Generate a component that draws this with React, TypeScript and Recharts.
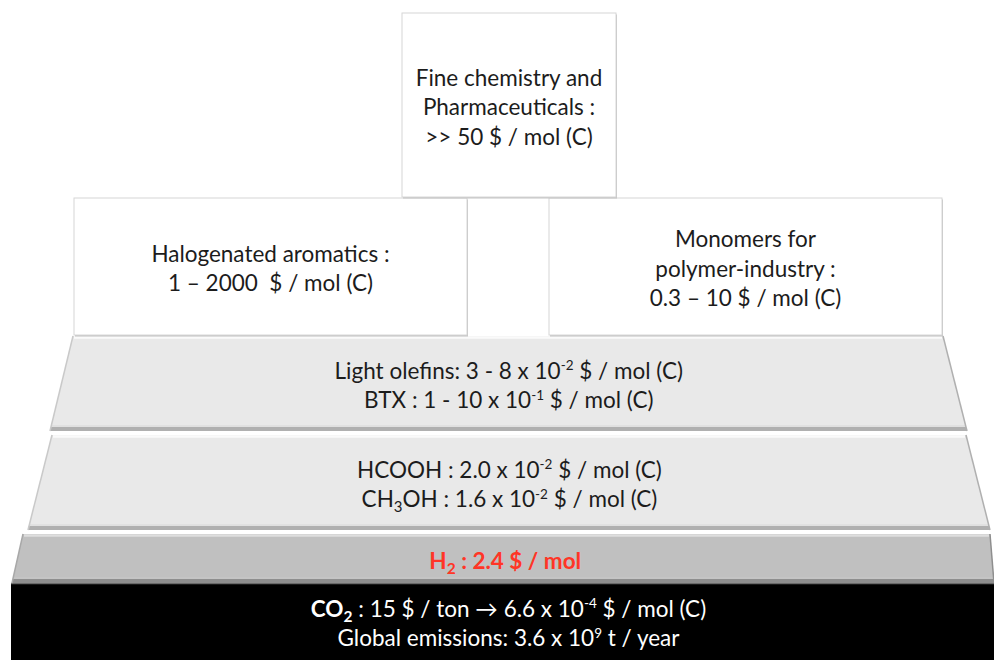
import React from 'react';
import { ComposedChart, XAxis, YAxis, ReferenceArea } from 'recharts';

type Seg = { t: string; k?: 'sup' | 'sub' | 'b' | 'bsub' };

// ---- texts (data) ----
const fineChemLines: Seg[][] = [
  [{ t: 'Fine chemistry and' }],
  [{ t: 'Pharmaceuticals :' }],
  [{ t: '>> 50 $ / mol (C)' }],
];
const halogenLines: Seg[][] = [
  [{ t: 'Halogenated aromatics :' }],
  [{ t: '1 – 2000  $ / mol (C)' }],
];
const monomerLines: Seg[][] = [
  [{ t: 'Monomers for' }],
  [{ t: 'polymer-industry :' }],
  [{ t: '0.3 – 10 $ / mol (C)' }],
];
const olefinLines: Seg[][] = [
  [{ t: 'Light olefins: 3 - 8 x 10' }, { t: '-2', k: 'sup' }, { t: ' $ / mol (C)' }],
  [{ t: 'BTX : 1 - 10 x 10' }, { t: '-1', k: 'sup' }, { t: ' $ / mol (C)' }],
];
const c1Lines: Seg[][] = [
  [{ t: 'HCOOH : 2.0 x 10' }, { t: '-2', k: 'sup' }, { t: ' $ / mol (C)' }],
  [{ t: 'CH' }, { t: '3', k: 'sub' }, { t: 'OH : 1.6 x 10' }, { t: '-2', k: 'sup' }, { t: ' $ / mol (C)' }],
];
const h2Lines: Seg[][] = [[{ t: 'H', k: 'b' }, { t: '2', k: 'bsub' }, { t: ' : 2.4 $ / mol', k: 'b' }]];
const co2Lines: Seg[][] = [
  [{ t: 'CO', k: 'b' }, { t: '2', k: 'bsub' }, { t: ' : 15 $ / ton → 6.6 x 10' }, { t: '-4', k: 'sup' }, { t: ' $ / mol (C)' }],
  [{ t: 'Global emissions: 3.6 x 10' }, { t: '9', k: 'sup' }, { t: ' t / year' }],
];

// ---- tier extents in chart units (x: 0..994, y: 0..660 top-down) ----
const boxTiers = [
  { key: 'halogen', x1: 74, x2: 467, y1: 198, y2: 335, lines: halogenLines },
  { key: 'monomer', x1: 549, x2: 942, y1: 198, y2: 335, lines: monomerLines },
  { key: 'fine', x1: 402, x2: 616, y1: 13, y2: 197, lines: fineChemLines },
];
const trapTiers = [
  { key: 'olefin', x1: 50, x2: 967, y1: 336, y2: 431, insetL: 23, insetR: 24, lines: olefinLines, kind: 'light' },
  { key: 'c1', x1: 28, x2: 990, y1: 435, y2: 530, insetL: 24, insetR: 24, lines: c1Lines, kind: 'light' },
  { key: 'h2', x1: 12, x2: 994, y1: 534, y2: 583, insetL: 11, insetR: 4, lines: h2Lines, kind: 'mid' },
];
const baseTier = { x1: 11, x2: 994, y1: 583, y2: 660, lines: co2Lines };

const FONT = 'Lato, "Open Sans", sans-serif';
const FS = 22.5;
const LH = 29.5;

function renderLine(segs: Seg[], x: number, y: number, color: string, key: number) {
  const parts: React.ReactNode[] = [];
  let shift = 0;
  segs.forEach((s, i) => {
    let target = 0;
    let size = FS;
    let weight: any = 'normal';
    if (s.k === 'sup') { target = -8.5; size = 13.5; }
    if (s.k === 'sub') { target = 5; size = 15; }
    if (s.k === 'b') { weight = 'bold'; }
    if (s.k === 'bsub') { target = 5; size = 15.5; weight = 'bold'; }
    const dy = target - shift;
    shift = target;
    parts.push(
      <tspan key={i} dy={dy} fontSize={size} fontWeight={weight}>{s.t}</tspan>
    );
  });
  return (
    <text key={key} x={x} y={y} textAnchor="middle" fill={color} fontFamily={FONT} fontSize={FS}
      style={{ whiteSpace: 'pre' }}>
      {parts}
    </text>
  );
}

function renderLines(lines: Seg[][], cx: number, cy: number, color: string) {
  const n = lines.length;
  return lines.map((l, i) => renderLine(l, cx, cy + (i - (n - 1) / 2) * LH + 10, color, i));
}

const boxShape = (lines: Seg[][]) => (p: any) => {
  const { x, y, width, height } = p;
  return (
    <g>
      <rect x={x + 1} y={y + 1.5} width={width} height={height} fill="#c4c4c4" />
      <rect x={x} y={y} width={width} height={height} fill="#ffffff" stroke="#d6d6d6" strokeWidth={1} />
      {renderLines(lines, x + width / 2, y + height / 2, '#1c1c1c')}
    </g>
  );
};

const trapShape = (t: any) => (p: any) => {
  const { x, y, width, height } = p;
  const xl = x, xr = x + width, yt = y, yb = y + height;
  const tl = xl + t.insetL, tr = xr - t.insetR;
  const fill = t.kind === 'light' ? '#e9e9e9' : '#c0c0c0';
  const hi = t.kind === 'light' ? '#fafafa' : '#dedede';
  const dark = t.kind === 'light' ? '#b0b0b0' : '#8e8e8e';
  const edge = t.kind === 'light' ? '#c9c9c9' : '#a8a8a8';
  const frac = (yy: number) => (yy - yt) / (yb - yt);
  const lx = (yy: number) => tl + (xl - tl) * frac(yy);
  const rx = (yy: number) => tr + (xr - tr) * frac(yy);
  const color = t.kind === 'light' ? '#1c1c1c' : '#ff3526';
  return (
    <g>
      <polygon points={`${tl},${yt} ${tr},${yt} ${xr},${yb} ${xl},${yb}`} fill={fill} />
      <polygon points={`${lx(yb - 4)},${yb - 4} ${rx(yb - 4)},${yb - 4} ${xr},${yb} ${xl},${yb}`} fill={dark} />
      <line x1={lx(yb - 5)} y1={yb - 5} x2={rx(yb - 5)} y2={yb - 5} stroke="#d8d8d8" strokeWidth={1} opacity={t.kind === 'light' ? 1 : 0.4} />
      <line x1={tl + 1} y1={yt + 1.5} x2={tr - 1} y2={yt + 1.5} stroke={hi} strokeWidth={2.5} />
      <line x1={tl} y1={yt} x2={xl} y2={yb} stroke={edge} strokeWidth={1.5} />
      <line x1={tr} y1={yt} x2={xr} y2={yb} stroke={dark} strokeWidth={1.5} />
      {renderLines(t.lines, (tl + tr + xl + xr) / 4 + 0.5, (yt + yb) / 2, color)}
    </g>
  );
};

const baseShape = (lines: Seg[][]) => (p: any) => {
  const { x, y, width, height } = p;
  return (
    <g>
      <rect x={x} y={y} width={width} height={height} fill="#000000" />
      <line x1={x} y1={y + 0.5} x2={x + width} y2={y + 0.5} stroke="#6a6a6a" strokeWidth={1.5} />
      {renderLines(lines, 508.5, y + height / 2, '#ffffff')}
    </g>
  );
};

const axisData = [{ x: 0, y: 0 }, { x: 994, y: 660 }];

export default function App() {
  return (
    <div style={{ position: 'absolute', left: 0, top: 0, background: '#ffffff' }}>
      <ComposedChart width={994} height={660} data={axisData} margin={{ top: 0, right: 0, bottom: 0, left: 0 }}>
        <XAxis type="number" dataKey="x" domain={[0, 994]} hide allowDataOverflow />
        <YAxis type="number" dataKey="y" domain={[0, 660]} reversed hide allowDataOverflow />
        <ReferenceArea x1={baseTier.x1} x2={baseTier.x2} y1={baseTier.y1} y2={baseTier.y2}
          ifOverflow="visible" shape={baseShape(baseTier.lines)} />
        {trapTiers.slice().reverse().map((t) => (
          <ReferenceArea key={t.key} x1={t.x1} x2={t.x2} y1={t.y1} y2={t.y2}
            ifOverflow="visible" shape={trapShape(t)} />
        ))}
        {boxTiers.map((b) => (
          <ReferenceArea key={b.key} x1={b.x1} x2={b.x2} y1={b.y1} y2={b.y2}
            ifOverflow="visible" shape={boxShape(b.lines)} />
        ))}
      </ComposedChart>
    </div>
  );
}
